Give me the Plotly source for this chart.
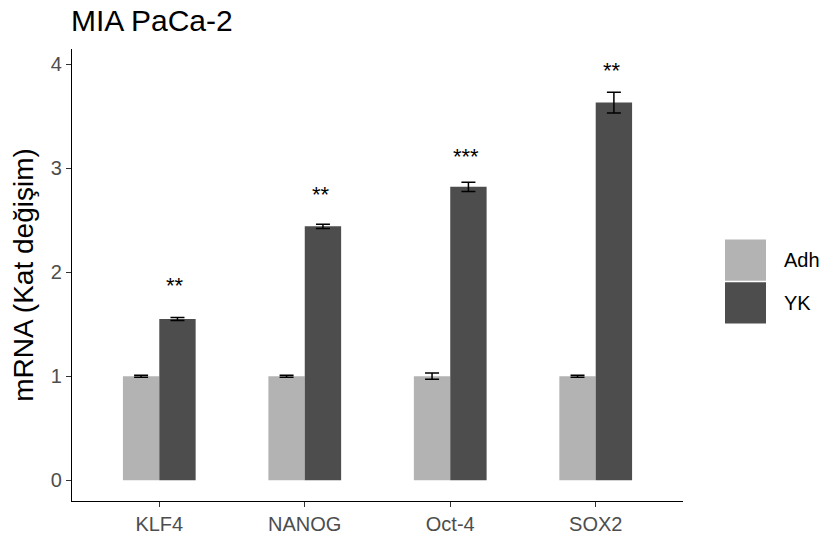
import plotly.graph_objects as go

genes = ["KLF4", "NANOG", "Oct-4", "SOX2"]
adh_mean = [1.0, 1.0, 1.0, 1.0]
adh_se = [0.01, 0.01, 0.03, 0.01]
yk_mean = [1.55, 2.44, 2.82, 3.63]
yk_se = [0.015, 0.02, 0.045, 0.10]
signif = ["**", "**", "***", "**"]
star_y = [1.89, 2.77, 3.13, 3.96]
series_names = ["Adh", "YK"]
colors = ["#B3B3B3", "#4D4D4D"]

FONT = "Liberation Sans, Arial, sans-serif"

fig = go.Figure()
for name, mean, se, col in zip(series_names, [adh_mean, yk_mean], [adh_se, yk_se], colors):
    fig.add_trace(go.Bar(
        x=genes, y=mean, name=name, marker=dict(color=col, line=dict(width=0)),
        error_y=dict(type="data", array=se, visible=True, color="black", thickness=1.5, width=7),
        showlegend=False,
    ))

for i, (s, y) in enumerate(zip(signif, star_y)):
    fig.add_annotation(x=i + 0.125, y=y, text=s, showarrow=False, xref="x", yref="y",
                       xshift=-2, yanchor="middle", yshift=-2,
                       font=dict(family=FONT, size=22, color="black"))

# legend (manual)
key_x0, key_w, key_h, key_top = 725, 41, 41.5, 241
for j, (name, col) in enumerate(zip(series_names, colors)):
    y0 = key_top + j * (key_h + 1.5)
    fig.add_shape(type="rect", xref="paper", yref="paper",
                  x0=(key_x0 - 72) / (683 - 72), x1=(key_x0 + key_w - 72) / (683 - 72),
                  y0=(504.3 - y0) / (504.3 - 49.3), y1=(504.3 - y0 - key_h) / (504.3 - 49.3),
                  fillcolor=col, line=dict(width=0))
    fig.add_annotation(xref="paper", yref="paper",
                       x=(782 - 72) / (683 - 72), y=(504.3 - y0 - key_h / 2) / (504.3 - 49.3),
                       xanchor="left", yanchor="middle", text=name, showarrow=False,
                       font=dict(family=FONT, size=20, color="black"))

fig.add_annotation(xref="paper", yref="paper", x=0, y=1, xanchor="left", yanchor="bottom",
                   yshift=10, xshift=-3, text="MIA PaCa-2", showarrow=False,
                   font=dict(family=FONT, size=30, color="black"))

fig.update_layout(
    width=823, height=547,
    margin=dict(l=72, r=140, t=49, b=43),
    paper_bgcolor="white", plot_bgcolor="white",
    barmode="group", bargap=0.5, bargroupgap=0,
    font=dict(family=FONT),
)
fig.update_xaxes(range=[-0.6, 3.6], showline=True, linecolor="black", linewidth=1.2,
                 ticks="outside", ticklen=5, tickcolor="#333333", tickwidth=1.2,
                 tickfont=dict(size=20, color="#4D4D4D", family=FONT), showgrid=False, zeroline=False)
fig.update_yaxes(range=[-0.2, 4.145], showline=True, linecolor="black", linewidth=1.2,
                 ticks="outside", ticklen=5, tickcolor="#333333", tickwidth=1.2,
                 tickvals=[0, 1, 2, 3, 4],
                 tickfont=dict(size=20, color="#4D4D4D", family=FONT), showgrid=False, zeroline=False,
                 title=dict(text="mRNA (Kat değişim)", font=dict(size=28, color="black", family=FONT), standoff=8))

fig.write_html("out.html")
